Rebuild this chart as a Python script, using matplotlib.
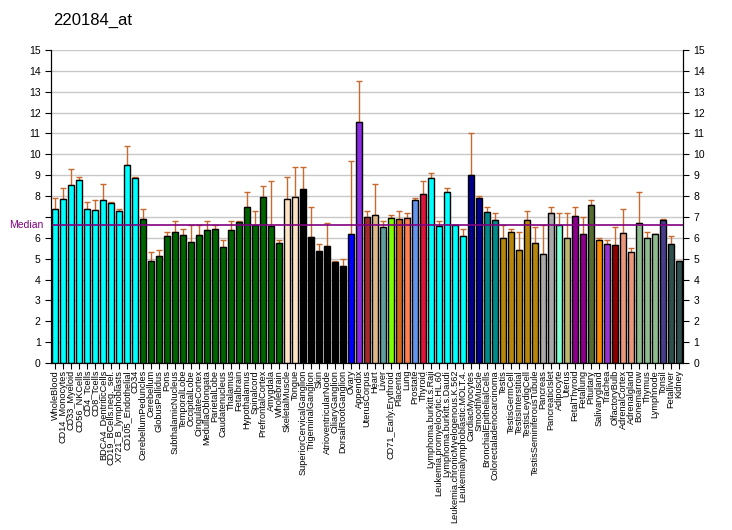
import matplotlib
matplotlib.use('Agg')
import matplotlib.pyplot as plt

# tissue names, in plotting order
tissues = ['WholeBlood', 'CD14_Monocytes', 'CD33_Myeloid', 'CD56_NKCells', 'CD4_Tcells',
           'CD8_Tcells', 'BDCA4_DentriticCells', 'CD19_BCells.neg._sel.', 'X721_B_lymphoblasts',
           'CD105_Endothelial', 'CD34', 'CerebellumPeduncles', 'Cerebellum', 'GlobusPallidus',
           'Pons', 'SubthalamicNucleus', 'TemporalLobe', 'OccipitalLobe', 'CingulateCortex',
           'MedullaOblongata', 'ParietalLobe', 'Caudatenucleus', 'Thalamus', 'Fetalbrain',
           'Hypothalamus', 'Spinalcord', 'PrefrontalCortex', 'Amygdala', 'Wholebrain',
           'SkeletalMuscle', 'Tongue', 'SuperiorCervicalGanglion', 'TrigeminalGanglion', 'Skin',
           'AtrioventricularNode', 'CiliaryGanglion', 'DorsalRootGanglion', 'Ovary', 'Appendix',
           'UterusCorpus', 'Heart', 'Liver', 'CD71_Early.Erythroid', 'Placenta', 'Lung',
           'Prostate', 'Thyroid', 'Lymphoma.burkitt.s.Raji', 'Leukemia.promyelocytic.HL.60',
           'Lymphoma.burkitt.s.Daudi', 'Leukemia.chronicMyelogenous.K.562',
           'Leukemialymphoblastic.MOLT.4.', 'CardiacMyocytes', 'SmoothMuscle',
           'BronchialEpithelialCells', 'Colorectaladenocarcinoma', 'Testis', 'TestisGermCell',
           'TestisInterstitial', 'TestisLeydigCell', 'TestisSeminiferousTubule', 'Pancreas',
           'PancreaticIslet', 'Adipocyte', 'Uterus', 'FetalThyroid', 'Fetallung', 'Pituitary',
           'Salivarygland', 'Trachea', 'OlfactoryBulb', 'AdrenalCortex', 'Adrenalgland',
           'Bonemarrow', 'Thymus', 'Lymphnode', 'Tonsil', 'Fetalliver', 'Kidney']

# expression values
values = [7.38, 7.86, 8.53, 8.77, 7.38, 7.33, 7.81, 7.67, 7.28, 9.49, 8.88,
          6.90, 4.90, 5.13, 6.09, 6.28, 6.13, 5.80, 6.13, 6.37, 6.42, 5.56, 6.37, 6.76,
          7.48, 6.60, 7.96, 6.55, 5.75,
          7.86, 7.96, 8.34, 6.04, 5.38, 5.61, 4.86, 4.65, 6.18, 11.55,
          7.00, 7.09, 6.52, 6.95, 6.90, 6.95, 7.81, 8.10,
          8.87, 6.57, 8.19, 6.60, 6.09, 9.01, 7.91, 7.24, 6.85,
          5.99, 6.28, 5.42, 6.85, 5.75, 5.22, 7.19, 6.60, 5.99, 7.04, 6.18, 7.57,
          5.89, 5.70, 5.65, 6.23, 5.32, 6.71, 5.99, 6.18, 6.85, 5.70, 4.89]

# upper end of the error bars
err_top = [7.89, 8.37, 9.30, 8.91, 7.70, 7.81, 8.56, 7.72, 7.36, 10.40, 8.91,
           7.36, 5.32, 5.40, 6.28, 6.79, 6.42, 6.60, 6.60, 6.79, 6.60, 5.89, 6.79, 6.79,
           8.19, 7.27, 8.48, 8.72, 5.89,
           8.91, 9.39, 9.39, 7.48, 5.70, 6.71, 4.90, 4.98, 9.68, 13.51,
           7.28, 8.58, 6.79, 7.09, 7.28, 7.19, 7.91, 8.72,
           9.11, 6.79, 8.39, 6.60, 6.42, 11.02, 8.00, 7.48, 7.19,
           6.60, 6.41, 6.28, 7.28, 6.50, 6.60, 7.48, 7.19, 7.19, 7.48, 7.00, 7.81,
           5.99, 5.89, 6.52, 7.38, 5.51, 8.19, 6.28, 6.18, 6.90, 6.09, 4.89]

colors = (['#00FFFF'] * 11 + ['#006400'] * 18 + ['#FFE4C4'] * 2 + ['#000000'] * 6 +
          ['#0000FF', '#8A2BE2', '#A52A2A', '#DEB887', '#5F9EA0', '#7FFF00', '#D2691E',
           '#FF7F50', '#6495ED', '#DC143C'] + ['#00FFFF'] * 5 + ['#00008B'] * 2 +
          ['#008B8B'] * 2 + ['#B8860B'] * 5 + ['#A9A9A9'] * 2 +
          ['#7FFFD4', '#BDB76B', '#8B008B', '#8B008B', '#556B2F', '#FF8C00', '#9932CC',
           '#8B0000', '#E9967A', '#E9967A'] + ['#8FBC8F'] * 3 + ['#483D8B'] +
          ['#2F4F4F'] * 2)

median = 6.61
yticks = list(range(16))

plt.rcParams['font.family'] = ['Liberation Sans', 'DejaVu Sans']
fig = plt.figure(figsize=(7.32, 5.30), dpi=100)
ax = fig.add_axes([51 / 732, 1 - 363 / 530, 632 / 732, 313 / 530])

x = list(range(len(values)))
errs = [max(t - v, 0) for t, v in zip(err_top, values)]
ax.bar(x, values, width=0.75, color=colors, edgecolor='black', linewidth=1, zorder=3)
ax.errorbar(x, values, yerr=[[0] * len(errs), errs], fmt='none', ecolor='#C8692D',
            elinewidth=1, capsize=2.5, capthick=1, zorder=2)

ax.axhline(median, color='#800080', linewidth=1.2, zorder=4)
ax.text(-0.012, median, 'Median', transform=ax.get_yaxis_transform(), ha='right',
        va='center', color='#800080', fontsize=7.5)

ax.set_xlim(-0.5, len(values) - 0.5)
ax.set_ylim(0, 15)
# left side: the "Median" label takes the place of 7
ax.set_yticks(yticks)
ax.set_yticklabels(['' if t == 7 else str(t) for t in yticks])
ax.yaxis.grid(True, color='#C8C8C8', linewidth=1, zorder=0)
ax.tick_params(axis='y', labelsize=7.5, length=4, direction='out')

ax2 = ax.twinx()
ax2.set_ylim(0, 15)
ax2.set_yticks(yticks)
ax2.tick_params(axis='y', labelsize=7.5, length=4, direction='out')

ax.set_xticks(x)
ax.set_xticklabels(tissues, rotation=90, fontsize=6.6,
                   family=['Liberation Sans Narrow', 'Liberation Sans'])
ax.tick_params(axis='x', length=4, pad=1)
ax.spines['top'].set_visible(False)
ax2.spines['top'].set_visible(False)

fig.text(53 / 732, 1 - 20 / 530, '220184_at', fontsize=12, va='center', ha='left')

fig.savefig('out.png', dpi=100)
